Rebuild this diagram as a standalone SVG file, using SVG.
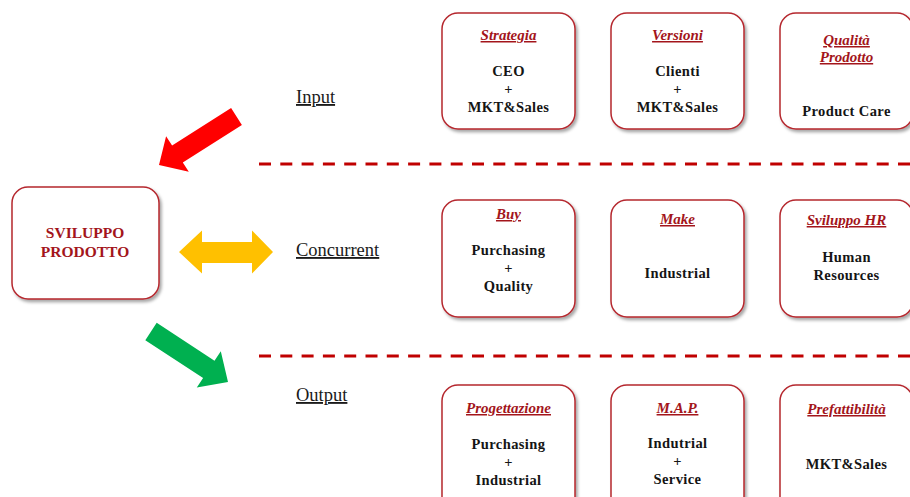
<svg xmlns="http://www.w3.org/2000/svg" width="910" height="497" viewBox="0 0 910 497">
  <defs>
    <filter id="shadow" x="-10%" y="-10%" width="130%" height="130%">
      <feDropShadow dx="2" dy="2.5" stdDeviation="1.6" flood-color="#000" flood-opacity="0.35"/>
    </filter>
    <style>
      .box { fill: #fff; stroke: #B5282E; stroke-width: 1.5; filter: url(#shadow); }
      .title { font-family: "Liberation Serif", "Times New Roman", serif; font-size: 15px; font-weight: bold; font-style: italic; fill: #A3151B; text-anchor: middle; text-decoration: underline; }
      .body { font-family: "Liberation Serif", "Times New Roman", serif; font-size: 14.5px; font-weight: bold; fill: #151515; text-anchor: middle; letter-spacing: 0.4px; }
      .main { font-family: "Liberation Serif", "Times New Roman", serif; font-size: 15.5px; font-weight: bold; fill: #A3151B; text-anchor: middle; }
      .phase { font-family: "Liberation Serif", "Times New Roman", serif; font-size: 18.5px; fill: #1a1a1a; text-decoration: underline; }
      .divider { stroke: #C00000; stroke-width: 3; stroke-dasharray: 12 9.3; fill: none; }
    </style>
  </defs>

  <rect width="910" height="497" fill="#fff"/>

  <!-- central node -->
  <g id="sviluppo-prodotto">
    <rect class="box" x="12" y="187" width="147" height="112" rx="16"/>
    <text class="main" x="85" y="238">SVILUPPO</text>
    <text class="main" x="85" y="257">PRODOTTO</text>
  </g>

  <!-- flow arrows and phase dividers -->
  <g id="connectors">
    <polygon id="arrow-input" fill="#FF0000" points="231.1,108 241.9,125 182.8,162.5 188.8,171.8 159,165 166.1,136.3 172.1,145.6"/>
    <polygon id="arrow-concurrent" fill="#FFC000" points="179,252 202,230.5 202,242 252,242 252,230.5 273,252 252,273.5 252,263 202,263 202,273.5"/>
    <polygon id="arrow-output" fill="#00B050" points="156.7,322.8 214.5,360.7 220.8,351.2 228,382 196.8,387.6 203.1,378.1 145.3,340.2"/>
    <line class="divider" x1="259" y1="164" x2="910" y2="164"/>
    <line class="divider" x1="259" y1="356" x2="910" y2="356"/>
  </g>

  <!-- phase labels -->
  <g id="phase-labels">
    <text class="phase" x="296" y="103">Input</text>
    <text class="phase" x="296" y="256">Concurrent</text>
    <text class="phase" x="296" y="401">Output</text>
  </g>

  <!-- input row -->
  <g id="strategia">
    <rect class="box" x="442" y="13" width="133" height="116" rx="16"/>
    <text class="title" x="508.5" y="40">Strategia</text>
    <text class="body" x="508.5" y="76">CEO</text>
    <text class="body" x="508.5" y="94">+</text>
    <text class="body" x="508.5" y="112">MKT&amp;Sales</text>
  </g>
  <g id="versioni">
    <rect class="box" x="611" y="13" width="133" height="116" rx="16"/>
    <text class="title" x="677.5" y="40">Versioni</text>
    <text class="body" x="677.5" y="76">Clienti</text>
    <text class="body" x="677.5" y="94">+</text>
    <text class="body" x="677.5" y="112">MKT&amp;Sales</text>
  </g>
  <g id="qualita-prodotto">
    <rect class="box" x="780" y="13" width="133" height="116" rx="16"/>
    <text class="title" x="846.5" y="45">Qualità</text>
    <text class="title" x="846.5" y="62">Prodotto</text>
    <text class="body" x="846.5" y="116">Product Care</text>
  </g>

  <!-- concurrent row -->
  <g id="buy">
    <rect class="box" x="442" y="200" width="133" height="117" rx="16"/>
    <text class="title" x="508.5" y="219">Buy</text>
    <text class="body" x="508.5" y="255">Purchasing</text>
    <text class="body" x="508.5" y="273">+</text>
    <text class="body" x="508.5" y="291">Quality</text>
  </g>
  <g id="make">
    <rect class="box" x="611" y="200" width="133" height="117" rx="16"/>
    <text class="title" x="677.5" y="224">Make</text>
    <text class="body" x="677.5" y="278">Industrial</text>
  </g>
  <g id="sviluppo-hr">
    <rect class="box" x="780" y="200" width="133" height="117" rx="16"/>
    <text class="title" x="846.5" y="225">Sviluppo HR</text>
    <text class="body" x="846.5" y="262">Human</text>
    <text class="body" x="846.5" y="280">Resources</text>
  </g>

  <!-- output row -->
  <g id="progettazione">
    <rect class="box" x="442" y="385" width="133" height="130" rx="16"/>
    <text class="title" x="508.5" y="413">Progettazione</text>
    <text class="body" x="508.5" y="449">Purchasing</text>
    <text class="body" x="508.5" y="467">+</text>
    <text class="body" x="508.5" y="485">Industrial</text>
  </g>
  <g id="map">
    <rect class="box" x="611" y="385" width="133" height="130" rx="16"/>
    <text class="title" x="677.5" y="413">M.A.P.</text>
    <text class="body" x="677.5" y="448">Indutrial</text>
    <text class="body" x="677.5" y="466">+</text>
    <text class="body" x="677.5" y="484">Service</text>
  </g>
  <g id="prefattibilita">
    <rect class="box" x="780" y="385" width="133" height="130" rx="16"/>
    <text class="title" x="846.5" y="414">Prefattibilità</text>
    <text class="body" x="846.5" y="469">MKT&amp;Sales</text>
  </g>
</svg>
